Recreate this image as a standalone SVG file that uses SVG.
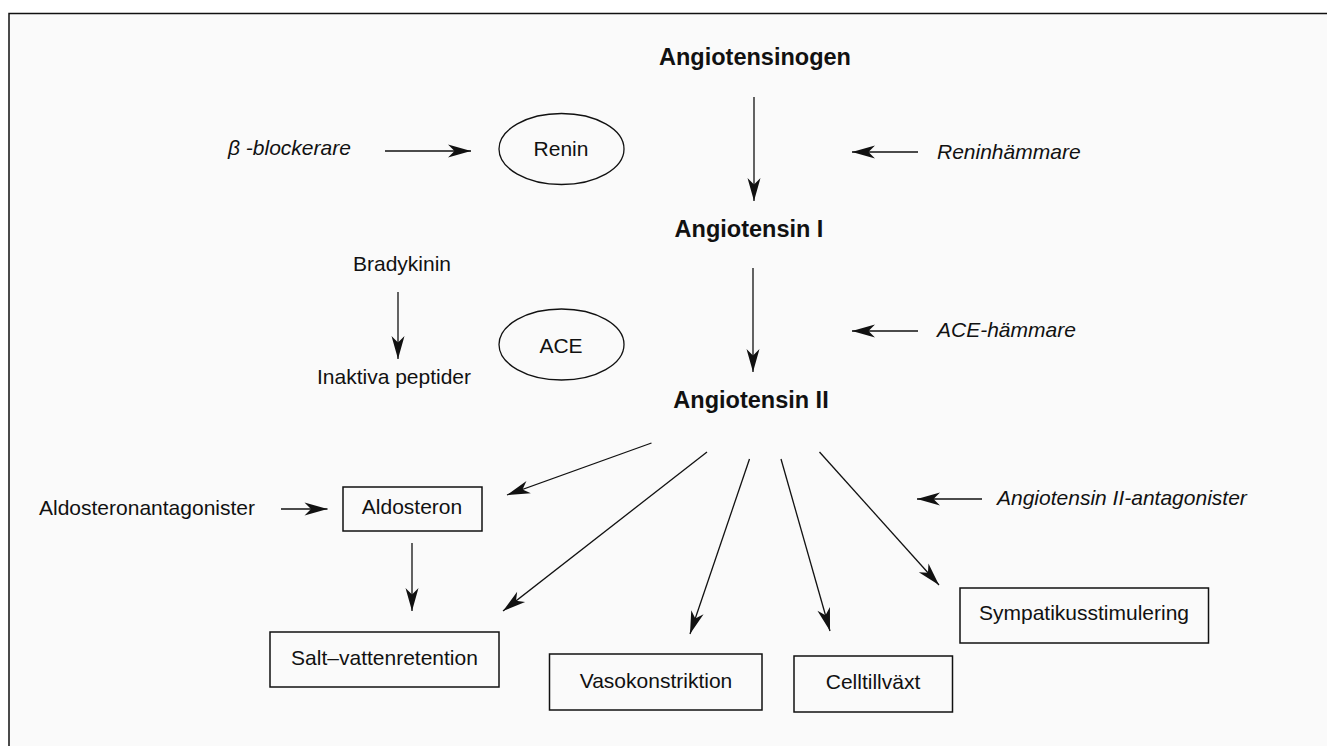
<svg xmlns="http://www.w3.org/2000/svg" width="1327" height="746" viewBox="0 0 1327 746">
<defs>
<marker id="ah" markerUnits="userSpaceOnUse" markerWidth="26" markerHeight="16" viewBox="-24 -8 26 16" refX="0" refY="0" orient="auto">
<path d="M0,0 L-23,-6.5 L-16.5,0 L-23,6.5 Z" fill="#111"/>
</marker>
</defs>
<style>
.t{font-family:"Liberation Sans",Arial,sans-serif;font-size:21px;fill:#111;text-anchor:middle}
.b{font-weight:bold;font-size:23.5px}
.i{font-style:italic;text-anchor:start}
.box{fill:none;stroke:#111;stroke-width:1.5}
.ell{fill:none;stroke:#111;stroke-width:1.3}
.c line{stroke:#111;stroke-width:1.3;marker-end:url(#ah)}
</style>
<rect x="0" y="0" width="1327" height="746" fill="#ffffff"/>
<rect id="frame" x="9" y="13.5" width="1330" height="740" fill="#fafafa" stroke="#111" stroke-width="1.5"/>

<g id="angiotensinogen"><text class="t b" x="755" y="65">Angiotensinogen</text></g>
<g id="angiotensin1"><text class="t b" x="749" y="237">Angiotensin I</text></g>
<g id="angiotensin2"><text class="t b" x="751" y="408">Angiotensin II</text></g>

<g id="betablockerare"><text class="t i" x="228" y="155">β -blockerare</text></g>
<g id="renin"><ellipse class="ell" cx="561.5" cy="149" rx="62.5" ry="35.5"/><text class="t" x="561" y="156">Renin</text></g>
<g id="reninhammare"><text class="t i" x="937" y="159">Reninhämmare</text></g>

<g id="bradykinin"><text class="t" x="402" y="271">Bradykinin</text></g>
<g id="inaktiva"><text class="t" x="394" y="384">Inaktiva peptider</text></g>
<g id="ace"><ellipse class="ell" cx="561.5" cy="344.5" rx="62.5" ry="35.5"/><text class="t" x="561" y="353">ACE</text></g>
<g id="acehammare"><text class="t i" x="937" y="337">ACE-hämmare</text></g>

<g id="aldoant"><text class="t" x="147" y="515">Aldosteronantagonister</text></g>
<g id="aldosteron"><rect class="box" x="343" y="487" width="139" height="44"/><text class="t" x="412" y="514">Aldosteron</text></g>
<g id="salt"><rect class="box" x="270" y="632" width="229" height="55"/><text class="t" x="384.5" y="665">Salt–vattenretention</text></g>
<g id="vaso"><rect class="box" x="549.5" y="654" width="212.5" height="56"/><text class="t" x="656" y="688">Vasokonstriktion</text></g>
<g id="cell"><rect class="box" x="794" y="656" width="158.5" height="56"/><text class="t" x="873" y="689">Celltillväxt</text></g>
<g id="symp"><rect class="box" x="960" y="588" width="248.5" height="55"/><text class="t" x="1084" y="620">Sympatikusstimulering</text></g>
<g id="a2ant"><text class="t i" x="997" y="505">Angiotensin II-antagonister</text></g>

<g id="connectors" class="c">
<line x1="754" y1="97" x2="754" y2="201"/>
<line x1="753" y1="268" x2="753" y2="372"/>
<line x1="385" y1="151" x2="471" y2="151"/>
<line x1="918" y1="152" x2="852" y2="152"/>
<line x1="918" y1="331" x2="852" y2="331"/>
<line x1="398" y1="292" x2="398" y2="359"/>
<line x1="982" y1="499" x2="917" y2="499"/>
<line x1="281" y1="509" x2="327.5" y2="509"/>
<line x1="412" y1="543" x2="412" y2="611"/>
<line x1="651.5" y1="443" x2="507" y2="495"/>
<line x1="707" y1="452" x2="503" y2="611"/>
<line x1="749.5" y1="459" x2="690" y2="634"/>
<line x1="781" y1="459" x2="830" y2="631"/>
<line x1="819.5" y1="452" x2="939" y2="585"/>
</g>
</svg>
